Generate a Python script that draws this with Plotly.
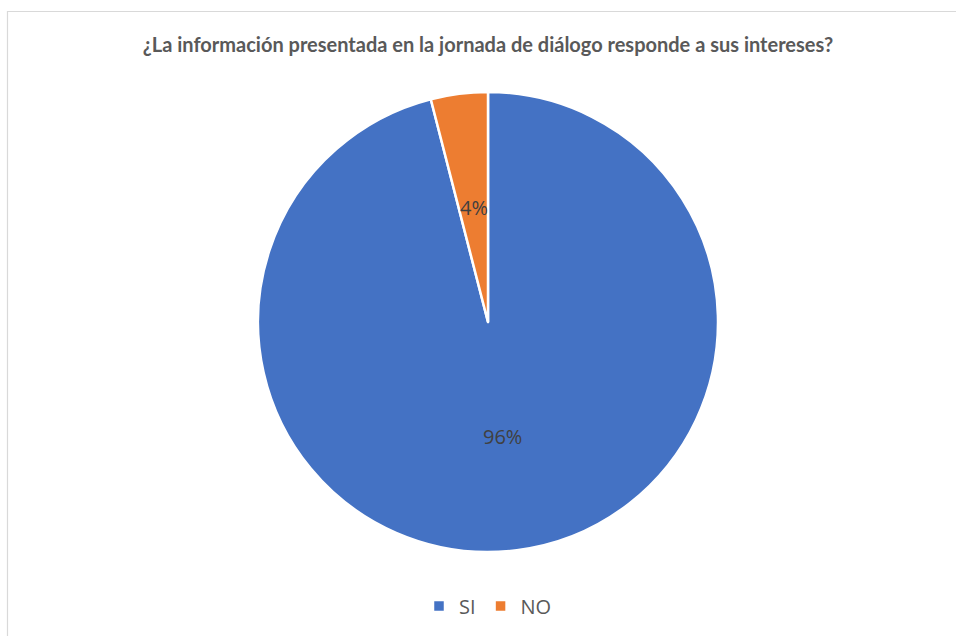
import math
import plotly.graph_objects as go

labels = ["SI", "NO"]
values = [96, 4]
colors = ["#4472C4", "#ED7D31"]

W, H = 956, 636
ML, MR, MT, MB = 20, 0, 92, 84
PW, PH = W - ML - MR, H - MT - MB
R = min(PW, PH) / 2

fig = go.Figure(
    go.Pie(
        labels=labels,
        values=values,
        sort=False,
        direction="clockwise",
        rotation=0,
        marker=dict(colors=colors, line=dict(color="white", width=2.5)),
        textinfo="none",
        hoverinfo="label+percent",
    )
)


def px_x(p):
    return (p - ML) / PW


def px_y(p):
    return (H - MB - p) / PH


# percentage labels at half radius along each slice's mid-angle (Excel style)
total = sum(values)
cum = 0
for lab, v in zip(labels, values):
    mid = (cum + v / 2) / total * 2 * math.pi
    cum += v
    fig.add_annotation(
        x=0.5 + 0.5 * R * math.sin(mid) / PW,
        y=0.5 + 0.5 * R * math.cos(mid) / PH,
        xref="paper", yref="paper",
        xanchor="center", yanchor="middle",
        text=f"{round(100 * v / total)}%",
        showarrow=False,
        font=dict(family="Open Sans, Arial, sans-serif", size=20, color="#404040"),
    )

# light grey chart-area border (top and left visible)
fig.add_shape(
    type="rect", xref="paper", yref="paper",
    x0=px_x(7.5), x1=px_x(970), y0=px_y(11.5), y1=px_y(660),
    line=dict(color="#d9d9d9", width=1.2), fillcolor="rgba(0,0,0,0)",
    layer="below",
)

fig.update_layout(
    width=W,
    height=H,
    margin=dict(l=ML, r=MR, t=MT, b=MB),
    paper_bgcolor="white",
    plot_bgcolor="white",
    title=dict(
        text="<b>¿La información presentada en la jornada de diálogo responde a sus intereses?</b>",
        x=488 / W,
        xanchor="center",
        y=1 - 45 / H,
        yanchor="middle",
        font=dict(family="Lato, Open Sans, sans-serif", size=20, color="#595959"),
    ),
    showlegend=True,
    legend=dict(
        orientation="h",
        x=px_x(488),
        xanchor="center",
        y=px_y(606),
        yanchor="middle",
        font=dict(family="Open Sans, Arial, sans-serif", size=20, color="#595959"),
        itemwidth=30,
    ),
)

fig.write_html("out.html", post_script="document.body.style.margin='0';",
               config={"displayModeBar": False})
